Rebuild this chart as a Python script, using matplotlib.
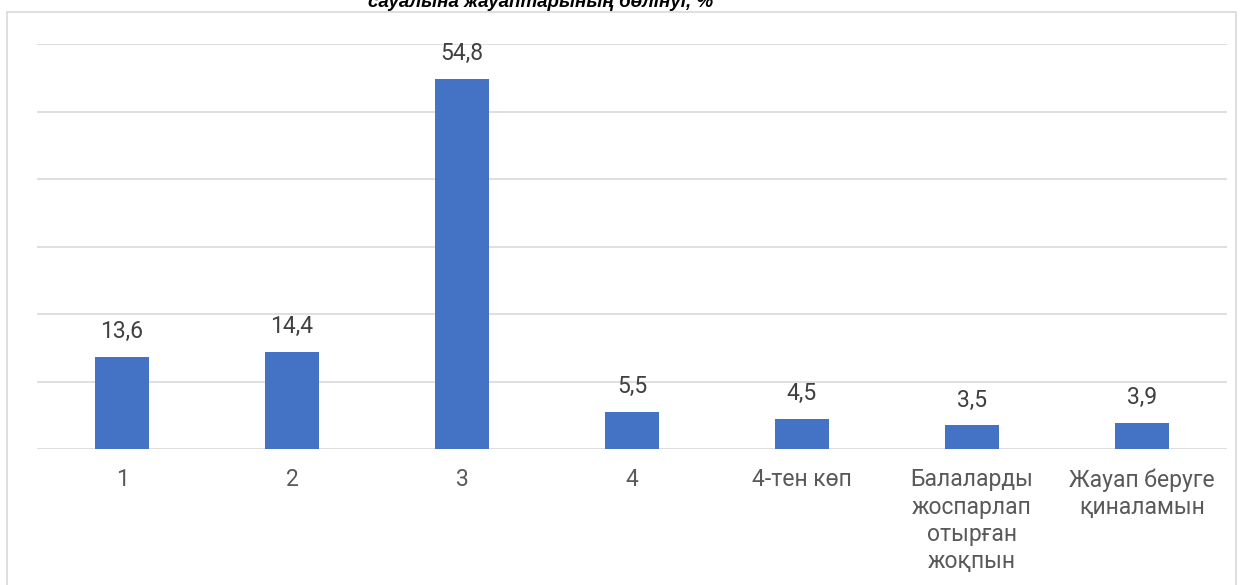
import matplotlib.pyplot as plt
from matplotlib.patches import Rectangle

categories = ['1', '2', '3', '4', '4-тен көп',
              'Балаларды\nжоспарлап\nотырған\nжоқпын',
              'Жауап беруге\nқиналамын']
values = [13.6, 14.4, 54.8, 5.5, 4.5, 3.5, 3.9]
labels = ['13,6', '14,4', '54,8', '5,5', '4,5', '3,5', '3,9']
title = 'сауалына жауаптарының бөлінуі, %'

plt.rcParams['font.family'] = ['Roboto', 'DejaVu Sans']

fig = plt.figure(figsize=(12.43, 5.85), dpi=100)
fig.patches.append(Rectangle((7 / 1243, -0.1), 1229 / 1243, 1.1 - 12 / 585,
                             transform=fig.transFigure, fill=False,
                             edgecolor='#d9d9d9', linewidth=1.2))

ax = fig.add_axes([37 / 1243, 1 - 449 / 585, 1190 / 1243, 405 / 585])
x = range(len(categories))
bars = ax.bar(x, values, width=0.32, color='#4472C4', zorder=3)
for b, lab in zip(bars, labels):
    ax.annotate(lab, (b.get_x() + b.get_width() / 2, b.get_height()),
                xytext=(0, 10), textcoords='offset points', ha='center', va='bottom',
                fontsize=16.5, color='#404040')

ax.set_xlim(-0.5, len(categories) - 0.5)
ax.set_ylim(0, 60)
ax.set_yticks(range(0, 61, 10))
ax.yaxis.grid(True, color='#d9d9d9', linewidth=1.2, zorder=0)
ax.tick_params(axis='y', left=False, labelleft=False)
ax.tick_params(axis='x', length=0, pad=14, labelsize=16.5, labelcolor='#595959')
ax.set_xticks(list(x))
ax.set_xticklabels(categories, linespacing=1.24, va='top')
for s in ax.spines.values():
    s.set_visible(False)

fig.text(541 / 1243, 1 - 7 / 585, title, ha='center', va='baseline',
         fontsize=13.5, fontweight='bold', fontstyle='italic',
         family=['Liberation Sans', 'DejaVu Sans'], color='black')

fig.savefig('out.png', dpi=100, facecolor='white')
